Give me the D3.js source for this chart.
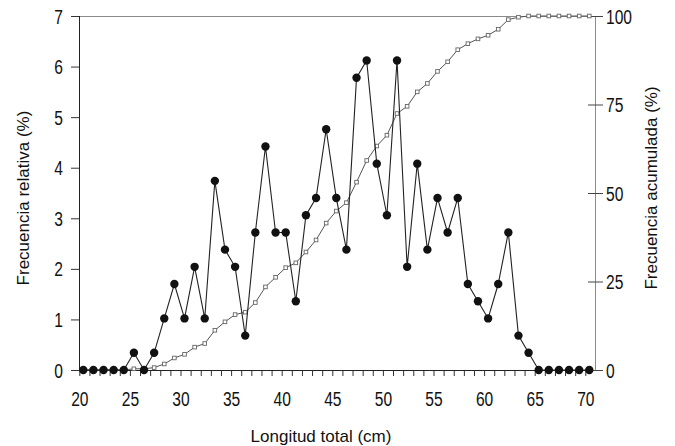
<!DOCTYPE html>
<html><head><meta charset="utf-8">
<script src="https://cdn.jsdelivr.net/npm/d3@7"></script>
<style>
html,body{margin:0;padding:0;background:#fff;}
svg{display:block;}
.num{font-family:"Liberation Sans",Arial,sans-serif;font-size:19.5px;fill:#111;}
.ttl{font-family:"Liberation Sans",Arial,sans-serif;font-size:17px;fill:#111;}
</style></head>
<body>
<svg id="c" width="675" height="446"></svg>
<script>
const lengths = d3.range(20, 71); // 20..70 cm
const relativa = [0,0,0,0,0,0.34,0,0.34,1.02,1.70,1.02,2.04,1.02,3.74,2.38,2.04,0.68,2.72,4.42,2.72,2.72,1.36,3.06,3.40,4.76,3.40,2.38,5.78,6.12,4.08,3.06,6.12,2.04,4.08,2.38,3.40,2.72,3.40,1.70,1.36,1.02,1.70,2.72,0.68,0.34,0,0,0,0,0,0];
const acumulada = [0,0,0,0,0,0.34,0.34,0.68,1.70,3.40,4.42,6.46,7.48,11.22,13.61,15.65,16.33,19.05,23.47,26.19,28.91,30.27,33.33,36.73,41.50,44.90,47.28,53.06,59.18,63.27,66.33,72.45,74.49,78.57,80.95,84.35,87.07,90.48,92.18,93.54,94.56,96.26,98.98,99.66,100,100,100,100,100,100,100];
const xTickLabels = [20,25,30,35,40,45,50,55,60,65,70];
const yLeftTicks = [0,1,2,3,4,5,6,7];
const yRightTicks = [0,25,50,75,100];

const SX = 0.8; // condensed digits
const svg = d3.select("#c");
const L = 79, R = 595, T = 16, B = 370;
const x = d3.scaleLinear().domain([20,70]).range([83.3,589.3]);
const xt = d3.scaleLinear().domain([20,70]).range([79.3,585.3]);
const y = d3.scaleLinear().domain([0,7]).range([B,T]);
const y2 = d3.scaleLinear().domain([0,100]).range([B,T]);

function condense(sel){
  sel.attr("class","num").attr("font-size",null).attr("font-family",null)
    .each(function(){
      const t = d3.select(this);
      const xv = +(t.attr("x")||0);
      t.attr("x", xv/SX).attr("transform",`scale(${SX},1)`);
    });
}

// frame: top and right (gray)
svg.append("line").attr("x1",L).attr("x2",R).attr("y1",T+0.5).attr("y2",T+0.5).attr("stroke","#8a8a8a").attr("stroke-width",1);
svg.append("line").attr("x1",R+0.5).attr("x2",R+0.5).attr("y1",T).attr("y2",B).attr("stroke","#8a8a8a").attr("stroke-width",1);

// bottom axis
const gx = svg.append("g").attr("transform",`translate(0,${B})`)
  .call(d3.axisBottom(xt).tickValues(lengths).tickSize(6).tickSizeOuter(0)
    .tickFormat(d => xTickLabels.includes(d) ? d : ""));
gx.select(".domain").remove();
gx.selectAll(".tick line").attr("stroke","#333");
gx.selectAll(".tick text").attr("y",22).attr("dy","0.71em").call(condense);
svg.append("line").attr("x1",L).attr("x2",R+1).attr("y1",B+0.5).attr("y2",B+0.5).attr("stroke","#222");

// left axis
const gy = svg.append("g").attr("transform",`translate(${L},0)`)
  .call(d3.axisLeft(y).tickValues(yLeftTicks).tickSize(8).tickPadding(8).tickSizeOuter(0).tickFormat(d3.format("d")));
gy.select(".domain").remove();
gy.selectAll(".tick line").attr("stroke","#333");
gy.selectAll(".tick text").attr("dy","0.36em").call(condense);
svg.append("line").attr("x1",L+0.5).attr("x2",L+0.5).attr("y1",T).attr("y2",B+1).attr("stroke","#222");

// right axis (ticks cross)
const gr = svg.append("g").attr("transform",`translate(${R},0)`)
  .call(d3.axisRight(y2).tickValues(yRightTicks).tickSize(8).tickPadding(3).tickSizeOuter(0));
gr.select(".domain").remove();
gr.selectAll(".tick line").attr("x1",-7).attr("stroke","#444");
gr.selectAll(".tick text").attr("dy","0.36em").call(condense);

// cumulative line (gray squares)
const pts2 = lengths.map((l,i)=>[l,acumulada[i]]);
svg.append("path").datum(pts2).attr("fill","none").attr("stroke","#555").attr("stroke-width",1)
  .attr("d", d3.line().x(d=>x(d[0])).y(d=>y2(d[1])));
svg.append("g").selectAll("rect").data(pts2).join("rect")
  .attr("x",d=>x(d[0])-1.8).attr("y",d=>y2(d[1])-1.8).attr("width",3.6).attr("height",3.6)
  .attr("fill","#fff").attr("stroke","#666").attr("stroke-width",0.9);

// relative line (black circles)
const pts = lengths.map((l,i)=>[l,relativa[i]]);
svg.append("path").datum(pts).attr("fill","none").attr("stroke","#222").attr("stroke-width",1.1)
  .attr("d", d3.line().x(d=>x(d[0])).y(d=>y(d[1])));
svg.append("g").selectAll("circle").data(pts).join("circle")
  .attr("cx",d=>x(d[0])).attr("cy",d=>y(d[1])).attr("r",4.2).attr("fill","#111");

// titles
svg.append("text").attr("class","ttl").attr("x",321).attr("y",442).attr("text-anchor","middle").text("Longitud total (cm)");
svg.append("text").attr("class","ttl").attr("transform","translate(28.5,198) rotate(-90)").attr("text-anchor","middle").text("Frecuencia relativa (%)");
svg.append("text").attr("class","ttl").attr("transform","translate(657,188) rotate(-90)").attr("text-anchor","middle").text("Frecuencia acumulada (%)");
</script>
</body></html>
